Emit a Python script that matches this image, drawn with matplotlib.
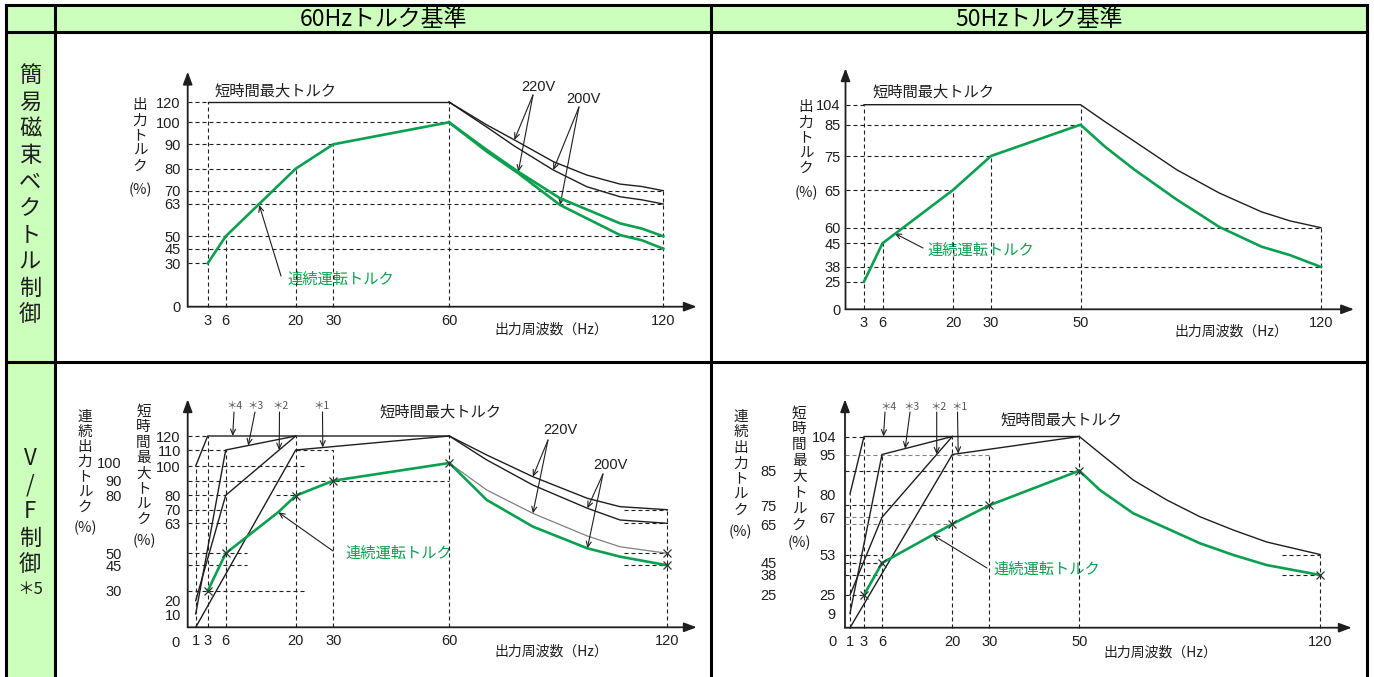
import matplotlib
matplotlib.use("Agg")
import matplotlib.pyplot as plt
import numpy as np
from matplotlib import font_manager
from matplotlib.patches import Rectangle

JP = ["Noto Sans CJK JP", "DejaVu Sans"]
plt.rcParams["font.family"] = JP

names = {f.name for f in font_manager.fontManager.ttflist}
if "Liberation Sans Narrow" in names:
    NUM_FONT, NUM_SIZE = "Liberation Sans Narrow", 12
else:
    NUM_FONT, NUM_SIZE = "Liberation Sans", 10.5

W, H = 1374, 677
GREEN = "#0aa04f"
INK = "#1e1e1e"
GREY = "#808080"
CELL = "#ccffbb"

# ---------------------------------------------------------------------------
# data (Hz, %)
# ---------------------------------------------------------------------------
# 60Hz base / simple flux vector control (top left)
tl_xticks = [3, 6, 20, 30, 60, 120]
tl_yticks = [0, 30, 45, 50, 63, 70, 80, 90, 100, 120]
tl_max_hz = [3, 60]
tl_max_pct = [120, 120]
tl_tail_hz = [60, 70.6, 78.3, 89.2, 98.6, 107.9, 114, 120]
tl_max220 = [120, 98.8, 92.0, 82.9, 77.1, 73.0, 71.9, 70]
tl_max200 = [120, 97.8, 89.3, 79.4, 71.8, 66.8, 65.2, 63]
tl_cont_hz = [3, 6, 20, 30, 60]
tl_cont_pct = [30, 50, 80, 90, 100]
tl_ctail_hz = [60, 70.6, 79.4, 91.1, 107.9, 114, 120]
tl_cont220 = [100, 87.7, 78.6, 66.0, 55.2, 53.1, 50]
tl_cont200 = [100, 87.0, 77.9, 62.6, 50.5, 48.4, 45]
tl_hguides = [(120, 0, 3), (100, 0, 60), (90, 0, 30), (80, 0, 20), (70, 0, 120),
              (63, 0, 120), (50, 0, 120), (45, 0, 120), (30, 0, 3)]
tl_vguides = [(3, 120), (6, 50), (20, 80), (30, 90), (60, 120), (120, 70)]

# 50Hz base / simple flux vector control (top right)
tr_xticks = [3, 6, 20, 30, 50, 120]
tr_yticks = [0, 25, 38, 45, 60, 65, 75, 85, 104]
tr_max_hz = [3, 50, 57.1, 65.8, 78.1, 90.4, 102.7, 111, 120]
tr_max_pct = [104, 104, 87.9, 79.6, 70.9, 64.6, 62.1, 60.9, 60]
tr_cont_hz = [3, 6, 20, 30, 50, 57.1, 65.8, 78.1, 90.4, 102.7, 111, 120]
tr_cont_pct = [25, 45, 65, 75, 85, 78.0, 70.9, 63.7, 60.1, 44.0, 41.5, 38]
tr_hguides = [(104, 0, 3), (85, 0, 50), (75, 0, 30), (65, 0, 20), (60, 0, 120),
              (45, 0, 6), (38, 0, 120), (25, 0, 3)]
tr_vguides = [(3, 104), (6, 45), (20, 65), (30, 75), (50, 104), (120, 60)]

# 60Hz base / V/F control (bottom left)
bl_xticks = [1, 3, 6, 20, 30, 60, 120]
bl_max_ticks = [10, 20, 63, 70, 80, 100, 110, 120]
bl_cont_ticks = [30, 45, 50, 80, 90, 100]
bl_s4_hz, bl_s4_pct = [1, 3, 60], [100, 120, 120]
bl_s3_hz, bl_s3_pct = [1, 6, 20], [10, 110, 120]
bl_s2_hz, bl_s2_pct = [1, 6, 20], [20, 80, 120]
bl_s1_hz, bl_s1_pct = [1, 20, 60], [0, 110, 120]
bl_tail_hz = [60, 70.3, 83, 98, 107, 120]
bl_max220 = [120, 106.9, 92.7, 77.9, 72.1, 70]
bl_max200 = [120, 103.8, 87.0, 71.0, 64.7, 63]
bl_cont_hz = [3, 6, 16.5, 20, 30, 60]
bl_cont_pct = [30, 50, 71.4, 80, 90, 100]
bl_cont220 = [100, 83.8, 70.8, 59.0, 53.4, 50]
bl_cont200 = [100, 77.8, 63.9, 52.6, 48.6, 45]
bl_mark_hz = [3, 6, 20, 30, 60, 120, 120]
bl_mark_pct = [30, 50, 80, 90, 100, 50, 45]
bl_hguides = [("max", 120, 0, 3), ("max", 110, 0, 6), ("max", 110, 20, 30),
              ("max", 100, 0, 22.5), ("cont", 90, 0, 60), ("max", 80, 0, 6),
              ("max", 80, 16, 20), ("max", 70, 0, 6), ("max", 70, 108, 120),
              ("max", 63, 0, 6), ("max", 63, 108, 120), ("cont", 50, 0, 10.2),
              ("cont", 50, 108, 120), ("cont", 45, 0, 10.2), ("cont", 45, 108, 120),
              ("cont", 30, 0, 22.5)]
bl_vguides = [(1, 100), (3, 120), (6, 110), (20, 120), (30, 110), (60, 120), (120, 70)]

# 50Hz base / V/F control (bottom right)
br_xticks = [1, 3, 6, 20, 30, 50, 120]
br_max_ticks = [9, 25, 53, 67, 80, 95, 104]
br_cont_ticks = [25, 38, 45, 65, 75, 85]
br_s4_hz, br_s4_pct = [1, 3, 50], [80, 104, 104]
br_s3_hz, br_s3_pct = [1, 6, 20], [9, 95, 104]
br_s2_hz, br_s2_pct = [1, 6, 20], [25, 67, 104]
br_s1_hz, br_s1_pct = [1, 20, 50], [0, 95, 104]
br_tail_hz = [50, 56, 65.7, 75.4, 85.1, 94.8, 104.5, 120]
br_max_tail = [104, 95.6, 85.3, 76.7, 67.3, 62.2, 57.7, 53]
br_cont_hz = [3, 6, 20, 30, 50]
br_cont_pct = [25, 45, 65, 75, 85]
br_cont_tail = [85, 79.4, 70.7, 62.8, 55.1, 49.1, 43.8, 38]
br_mark_hz = [3, 6, 20, 30, 50, 120]
br_mark_pct = [25, 45, 65, 75, 85, 38]
br_hguides = [("max", 104, 0, 3), ("max", 95, 0, 30), ("cont", 85, 0, 50),
              ("cont", 75, 0, 30), ("max", 67, 0, 6), ("cont", 65, 0, 20),
              ("max", 53, 0, 6), ("max", 53, 109, 120), ("cont", 45, 0, 6),
              ("cont", 38, 0, 6), ("cont", 38, 109, 120), ("cont", 25, 0, 3)]
br_vguides = [(1, 80), (3, 104), (6, 95), (20, 104), (30, 95), (50, 104), (120, 53)]
br_grey_levels = [95, 67, 65]

# ---------------------------------------------------------------------------
# layout: where each tick value sits on the hand-drawn axes (value, pixel)
# ---------------------------------------------------------------------------
TL_X = [(0, 187.7), (3, 207.7), (6, 225.7), (20, 295.7), (30, 333.3), (60, 449.0),
        (120, 663.3), (129.4, 696.7)]
TL_Y = [(0, 306.7), (30, 263.3), (45, 248.7), (50, 236.3), (63, 204.0), (70, 190.7),
        (80, 168.7), (90, 144.3), (100, 122.3), (120, 102.0), (150, 71.7)]
TR_X = [(0, 845.5), (3, 864.0), (6, 882.5), (20, 953.0), (30, 991.0), (50, 1080.5),
        (120, 1321.0), (129.6, 1354.0)]
TR_Y = [(0, 309.3), (25, 281.7), (38, 267.0), (45, 243.3), (60, 227.7), (65, 190.0),
        (75, 156.0), (85, 124.7), (104, 104.7), (140, 68.3)]
BL_X = [(0, 187.7), (1, 195.7), (3, 207.7), (6, 225.7), (20, 295.7), (30, 333.3),
        (60, 449.3), (120, 667.3), (128.1, 696.7)]
BL_YMAX = [(0, 627.3), (10, 614.0), (20, 600.7), (63, 523.3), (70, 509.7), (80, 495.3),
           (100, 466.0), (110, 450.0), (120, 436.0), (150, 399.3)]
BL_YCONT = [(0, 627.3), (30, 591.0), (45, 565.3), (50, 553.3), (80, 495.7), (90, 480.7),
            (100, 463.0), (140, 399.3)]
BR_X = [(0, 845.0), (1, 850.0), (3, 864.0), (6, 882.0), (20, 952.3), (30, 989.3),
        (50, 1079.3), (120, 1320.0), (129.2, 1351.7)]
BR_YMAX = [(0, 627.7), (9, 613.3), (25, 595.0), (53, 554.5), (67, 517.3), (80, 494.0),
           (95, 454.5), (104, 436.5), (130, 399.3)]
BR_YCONT = [(0, 627.7), (25, 595.0), (38, 575.0), (45, 563.0), (65, 524.0), (75, 505.3),
            (85, 470.7), (120, 399.3)]

DASH = (0, (3.6, 2.7))
PTR = dict(arrowstyle="->,head_length=0.4,head_width=0.18", lw=0.8, color=INK,
           shrinkA=0, shrinkB=0)

fig = plt.figure(figsize=(W / 100, H / 100), dpi=100)
bg = fig.add_axes([0, 0, 1, 1])
bg.set_xlim(0, W)
bg.set_ylim(H, 0)
bg.axis("off")

# table cells and rules
bg.add_patch(Rectangle((6, 5), 1361, 27, facecolor=CELL, edgecolor="none"))
bg.add_patch(Rectangle((6, 5), 48.7, H, facecolor=CELL, edgecolor="none"))
for xs, ys in [((6, 1367), (5, 5)), ((6, 1367), (32, 32)), ((6, 1367), (362, 362)),
               ((6, 6), (5, H)), ((54.7, 54.7), (5, H)), ((710.7, 710.7), (5, H)),
               ((1367, 1367), (5, H))]:
    bg.plot(xs, ys, color="black", lw=2.2, solid_capstyle="projecting")


def jp(x, y, s, size=10.5, color=INK, ha="left"):
    bg.text(x, y, s, fontsize=size, color=color, ha=ha, va="center", family=JP)


def num(x, y, s, size=NUM_SIZE, color=INK, ha="center"):
    bg.text(x, y, s, fontsize=size, color=color, ha=ha, va="center", family=NUM_FONT)


def stack(x, y, pitch, chars, size=10.5):
    for i, ch in enumerate(chars):
        jp(x, y + i * pitch, ch, size=size, ha="center")


jp(383, 19, "60Hzトルク基準", size=16.5, color="black", ha="center")
jp(1039, 19, "50Hzトルク基準", size=16.5, color="black", ha="center")
stack(30, 75.5, 26.6, "簡易磁束ベクトル制御", size=16)
stack(30, 458.5, 26.6, ["V", "/", "F", "制", "御"], size=16)
jp(30, 589, "＊5", size=12, ha="center")


def knot_funcs(knots, origin, sign):
    vals = np.array([k[0] for k in knots], float)
    pos = np.array([sign * (k[1] - origin) for k in knots], float)

    def fwd(v):
        return np.interp(v, vals, pos)

    def inv(p):
        return np.interp(p, pos, vals)

    return fwd, inv


def chart(xknots, yknots):
    x0, x1 = xknots[0][1], xknots[-1][1]
    y0, y1 = yknots[0][1], yknots[-1][1]
    ax = fig.add_axes([x0 / W, 1 - y0 / H, (x1 - x0) / W, (y0 - y1) / H])
    ax.set_xscale("function", functions=knot_funcs(xknots, x0, 1))
    ax.set_yscale("function", functions=knot_funcs(yknots, y0, -1))
    ax.patch.set_visible(False)
    for s in ax.spines.values():
        s.set_visible(False)
    ax.tick_params(length=0, labelsize=NUM_SIZE, labelcolor=INK,
                   labelfontfamily=NUM_FONT)
    ax.tick_params(axis="x", pad=5)
    for end in [(1, 0), (0, 1)]:
        ax.annotate("", xy=end, xytext=(0, 0), xycoords="axes fraction",
                    arrowprops=dict(arrowstyle="-|>,head_length=0.75,head_width=0.28",
                                    color=INK, lw=1.3, shrinkA=0, shrinkB=0))
    return ax


def twin(ax, yknots, pad):
    ax2 = ax.twinx()
    ax2.set_yscale("function", functions=knot_funcs(yknots, yknots[0][1], -1))
    ax2.patch.set_visible(False)
    for s in ax2.spines.values():
        s.set_visible(False)
    ax2.yaxis.tick_left()
    ax2.tick_params(axis="y", length=0, pad=pad, labelsize=NUM_SIZE, labelcolor=INK,
                    labelfontfamily=NUM_FONT)
    return ax2


def hguide(ax, v, a, b, color=INK):
    ax.plot([a, b], [v, v], ls=DASH, lw=0.8, color=color, clip_on=False, zorder=1)


def vguide(ax, x, top):
    ax.plot([x, x], [0, top], ls=DASH, lw=0.8, color=INK, clip_on=False, zorder=1)


def black(ax, xs, ys, color=INK, lw=1.0):
    ax.plot(xs, ys, color=color, lw=lw, clip_on=False, zorder=3)


def green(ax, xs, ys):
    ax.plot(xs, ys, color=GREEN, lw=1.9, clip_on=False, zorder=4,
            solid_joinstyle="miter")


def pointer(ax, tip, tail):
    ax.annotate("", xy=tip, xycoords="data", xytext=tail, textcoords=bg.transData,
                arrowprops=PTR)


# ---------------- top left ----------------
ax = chart(TL_X, TL_Y)
for v, a, b in tl_hguides:
    hguide(ax, v, a, b)
for x, top in tl_vguides:
    vguide(ax, x, top)
black(ax, tl_max_hz, tl_max_pct)
black(ax, tl_tail_hz, tl_max220)
black(ax, tl_tail_hz, tl_max200)
green(ax, tl_cont_hz, tl_cont_pct)
green(ax, tl_ctail_hz, tl_cont220)
green(ax, tl_ctail_hz, tl_cont200)
ax.set_xticks(tl_xticks, [str(v) for v in tl_xticks])
ax.set_yticks(tl_yticks, [str(v) for v in tl_yticks])
ax.tick_params(axis="y", pad=5)
ax.set_xlim(TL_X[0][0], TL_X[-1][0])
ax.set_ylim(TL_Y[0][0], TL_Y[-1][0])
stack(140, 105.5, 15.2, "出力トルク")
jp(140, 190, "(%)", ha="center")
jp(215, 91, "短時間最大トルク", size=11)
jp(287, 279, "連続運転トルク", size=11, color=GREEN)
jp(494, 330, "出力周波数（Hz）", size=10)
num(538, 87, "220V")
num(583, 99, "200V")
pointer(ax, (12.7, 62.6), (281, 276))
pointer(ax, (78.3, 92.0), (533, 95))
pointer(ax, (79.4, 78.6), (533, 95))
pointer(ax, (89.2, 79.4), (579, 107))
pointer(ax, (91.1, 62.6), (579, 107))

# ---------------- top right ----------------
ax = chart(TR_X, TR_Y)
for v, a, b in tr_hguides:
    hguide(ax, v, a, b)
for x, top in tr_vguides:
    vguide(ax, x, top)
black(ax, tr_max_hz, tr_max_pct)
green(ax, tr_cont_hz, tr_cont_pct)
ax.set_xticks(tr_xticks, [str(v) for v in tr_xticks])
ax.set_yticks(tr_yticks, [str(v) for v in tr_yticks])
ax.tick_params(axis="y", pad=3.5)
ax.set_xlim(TR_X[0][0], TR_X[-1][0])
ax.set_ylim(TR_Y[0][0], TR_Y[-1][0])
stack(806, 107.3, 15.3, "出力トルク")
jp(806, 192.7, "(%)", ha="center")
jp(873, 92, "短時間最大トルク", size=11)
jp(927, 250, "連続運転トルク", size=11, color=GREEN)
jp(1174, 332, "出力周波数（Hz）", size=10)
pointer(ax, (8.4, 54.6), (923, 248))

# ---------------- bottom left ----------------
ax = chart(BL_X, BL_YMAX)
ax2 = twin(ax, BL_YCONT, pad=47.5)
for scale, v, a, b in bl_hguides:
    hguide(ax if scale == "max" else ax2, v, a, b)
for x, top in bl_vguides:
    vguide(ax, x, top)
for xs, ys in [(bl_s4_hz, bl_s4_pct), (bl_s3_hz, bl_s3_pct),
               (bl_s2_hz, bl_s2_pct), (bl_s1_hz, bl_s1_pct)]:
    black(ax, xs, ys)
black(ax, bl_tail_hz, bl_max220)
black(ax, bl_tail_hz, bl_max200)
black(ax2, bl_tail_hz, bl_cont220, color=GREY, lw=0.9)
green(ax2, bl_cont_hz, bl_cont_pct)
green(ax2, bl_tail_hz, bl_cont200)
ax2.plot(bl_mark_hz, bl_mark_pct, ls="none", marker="x", ms=5.5, mew=0.9,
         color="#333333", clip_on=False, zorder=5)
ax.set_xticks(bl_xticks, [str(v) for v in bl_xticks])
ax.set_yticks(bl_max_ticks, [str(v) for v in bl_max_ticks])
ax2.set_yticks(bl_cont_ticks, [str(v) for v in bl_cont_ticks])
ax.tick_params(axis="y", pad=5)
ax.set_xlim(BL_X[0][0], BL_X[-1][0])
ax.set_ylim(BL_YMAX[0][0], BL_YMAX[-1][0])
ax2.set_ylim(BL_YCONT[0][0], BL_YCONT[-1][0])
num(176, 643, "0")
stack(85, 416.7, 15.2, "連続出力トルク")
jp(85, 528, "(%)", ha="center")
stack(143.5, 411.7, 15.5, "短時間最大トルク")
jp(144, 541, "(%)", ha="center")
jp(380, 412, "短時間最大トルク", size=11)
jp(345, 553, "連続運転トルク", size=11, color=GREEN)
jp(494, 652, "出力周波数（Hz）", size=10)
num(560, 430, "220V")
num(610, 465, "200V")
for x, s in [(235, "＊4"), (255, "＊3"), (280.7, "＊2"), (321.7, "＊1")]:
    jp(x, 406, s, size=7.5, color="#555555", ha="center")
pointer(ax2, (16.5, 71.4), (333, 551))
pointer(ax, (83, 92.7), (548, 440))
pointer(ax2, (83, 70.8), (548, 440))
pointer(ax, (98, 71.0), (603, 474))
pointer(ax2, (98, 52.6), (603, 474))
pointer(ax, (7.4, 120), (234, 412))
pointer(ax, (10.5, 113.2), (255, 412))
pointer(ax, (16.7, 110), (279.5, 412))
pointer(ax, (27.2, 111.8), (322.5, 412))

# ---------------- bottom right ----------------
ax = chart(BR_X, BR_YMAX)
ax2 = twin(ax, BR_YCONT, pad=49)
for scale, v, a, b in br_hguides:
    col = GREY if v in br_grey_levels else INK
    hguide(ax if scale == "max" else ax2, v, a, b, color=col)
for x, top in br_vguides:
    vguide(ax, x, top)
for xs, ys in [(br_s4_hz, br_s4_pct), (br_s3_hz, br_s3_pct),
               (br_s2_hz, br_s2_pct), (br_s1_hz, br_s1_pct)]:
    black(ax, xs, ys)
black(ax, br_tail_hz, br_max_tail)
green(ax2, br_cont_hz, br_cont_pct)
green(ax2, br_tail_hz, br_cont_tail)
ax2.plot(br_mark_hz, br_mark_pct, ls="none", marker="x", ms=5.5, mew=0.9,
         color="#333333", clip_on=False, zorder=5)
ax.set_xticks(br_xticks, [str(v) for v in br_xticks])
ax.set_yticks(br_max_ticks, [str(v) for v in br_max_ticks])
ax2.set_yticks(br_cont_ticks, [str(v) for v in br_cont_ticks])
ax.tick_params(axis="y", pad=6.5)
ax.set_xlim(BR_X[0][0], BR_X[-1][0])
ax.set_ylim(BR_YMAX[0][0], BR_YMAX[-1][0])
ax2.set_ylim(BR_YCONT[0][0], BR_YCONT[-1][0])
num(832.7, 642, "0")
stack(740.7, 416.7, 15.6, "連続出力トルク")
jp(740, 531.7, "(%)", ha="center")
stack(799.3, 413.3, 16, "短時間最大トルク")
jp(799.3, 543.3, "(%)", ha="center")
jp(1001, 420, "短時間最大トルク", size=11)
jp(993, 569, "連続運転トルク", size=11, color=GREEN)
jp(1103, 653, "出力周波数（Hz）", size=10)
for x, s in [(888.3, "＊4"), (911.7, "＊3"), (938.3, "＊2"), (959.3, "＊1")]:
    jp(x, 407, s, size=7.5, color="#555555", ha="center")
pointer(ax2, (16.1, 59.4), (987, 568))
pointer(ax, (6.3, 104), (885, 412))
pointer(ax, (10.6, 97.9), (910, 412))
pointer(ax, (16.9, 95.1), (936.7, 412))
pointer(ax, (21.6, 95.4), (957.5, 412))

fig.savefig("out.png", dpi=100)
